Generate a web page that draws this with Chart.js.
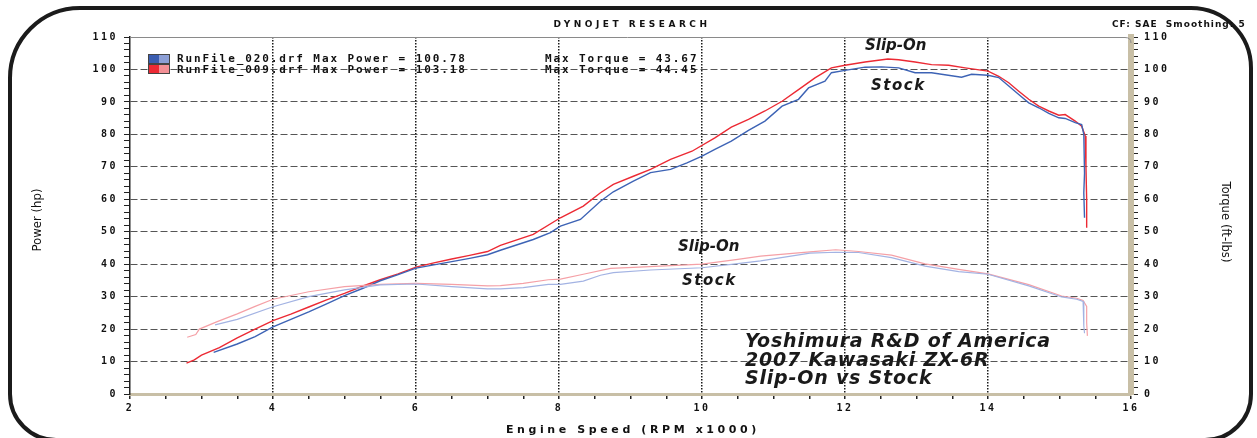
<!DOCTYPE html>
<html>
<head>
<meta charset="utf-8">
<script src="https://cdn.jsdelivr.net/npm/chart.js@4.4.0/dist/chart.umd.min.js"></script>
<style>
  html, body { margin: 0; padding: 0; background: #fff; }
  #wrap { position: relative; width: 1257px; height: 438px; overflow: hidden; }
  #wrap canvas { position: absolute; left: 0; top: 0; }
  .frame { position: absolute; left: 8px; top: 6px; width: 1245px; height: 436px; box-sizing: border-box;
           border: 4px solid #1b1b1b; border-radius: 72px 62px 48px 48px; pointer-events: none; }
  .txt { position: absolute; white-space: pre; color: #111; line-height: 12px; }
  .mono { font-family: 'DejaVu Sans Mono', monospace; font-weight: bold; font-size: 11px; letter-spacing: 1.9px; }
  .hdr { font-family: 'DejaVu Sans', sans-serif; font-weight: bold; font-size: 9px; letter-spacing: 3.5px; }
  .note { font-family: 'DejaVu Sans', sans-serif; font-weight: bold; font-style: italic; color: #1a1a1a; }
  .axt { font-family: 'Liberation Sans Narrow', 'DejaVu Sans Condensed', sans-serif; font-size: 13px; color: #111; }
  .sw { position: absolute; width: 22px; height: 10px; box-sizing: border-box; border: 1px solid #444; }
</style>
</head>
<body>
<div id="wrap">
  <canvas id="dyno" width="1257" height="438"></canvas>
  <div class="frame"></div>

  <div class="txt hdr" style="left:432px; top:18px; width:400px; text-align:center;">DYNOJET RESEARCH</div>
  <div class="txt hdr" style="left:1112px; top:18px; letter-spacing:1px;">CF: SAE  Smoothing: 5</div>

  <div class="sw" style="left:148px; top:54px; background:linear-gradient(90deg,#3a5db0 50%,#8c9fd6 50%);"></div>
  <div class="sw" style="left:148px; top:64px; background:linear-gradient(90deg,#ec2a34 50%,#f39096 50%);"></div>
  <div class="txt mono" style="left:177px; top:53px;">RunFile_020.drf Max Power = 100.78</div>
  <div class="txt mono" style="left:545px; top:53px;">Max Torque = 43.67</div>
  <div class="txt mono" style="left:177px; top:64px;">RunFile_009.drf Max Power = 103.18</div>
  <div class="txt mono" style="left:545px; top:64px;">Max Torque = 44.45</div>

  <div class="txt note" style="left:865px; top:37px; font-size:15px; line-height:16px;">Slip-On</div>
  <div class="txt note" style="left:871px; top:77px; font-size:15px; line-height:16px; letter-spacing:1.5px;">Stock</div>
  <div class="txt note" style="left:678px; top:238px; font-size:15px; line-height:16px;">Slip-On</div>
  <div class="txt note" style="left:682px; top:272px; font-size:15px; line-height:16px; letter-spacing:1.5px;">Stock</div>
  <div class="txt note" style="left:745px; top:331px; font-size:19px; line-height:18.5px; letter-spacing:0.8px;">Yoshimura R&amp;D of America
2007 Kawasaki ZX-6R
Slip-On vs Stock</div>

  <div class="txt hdr" style="left:433px; top:424px; width:400px; text-align:center; font-size:11px; letter-spacing:3.6px;">Engine Speed (RPM x1000)</div>
  <div class="txt axt" style="left:37px; top:220px; transform:translate(-50%,-50%) rotate(-90deg);">Power (hp)</div>
  <div class="txt axt" style="left:1226px; top:222px; transform:translate(-50%,-50%) rotate(90deg);">Torque (ft-lbs)</div>
</div>

<script>
// Slip-On run (RunFile_009)
const slipPowerRpm = [2.79, 2.9, 3.0, 3.25, 3.5, 3.75, 4.0, 4.25, 4.5, 4.75, 5.0, 5.25, 5.5, 5.75, 6.0, 6.25, 6.5, 6.75, 7.0, 7.18,
  7.64, 8.02, 8.34, 8.58, 8.76, 9.04, 9.28, 9.56, 9.86, 10.18, 10.41, 10.65, 10.88, 11.12, 11.35, 11.58, 11.81, 12.0, 12.28, 12.6,
  12.75, 12.98, 13.21, 13.45, 13.68, 14.0, 14.15, 14.29, 14.43, 14.57, 14.71, 14.85, 14.99, 15.08, 15.22, 15.31, 15.36, 15.37, 15.38, 15.38];
const slipPower = [9.5, 10.5, 12.0, 14.3, 17.3, 20.0, 22.6, 24.6, 26.8, 29.0, 31.0, 33.2, 35.2, 37.0, 39.1, 40.4, 41.6, 42.7, 43.9, 45.8,
  49.2, 54.3, 57.9, 62.0, 64.6, 67.1, 69.2, 72.3, 74.8, 78.9, 82.2, 84.6, 87.2, 90.2, 93.8, 97.4, 100.5, 101.3, 102.3, 103.2,
  103.0, 102.3, 101.5, 101.3, 100.5, 99.5, 97.9, 95.9, 93.3, 90.8, 88.7, 87.2, 85.9, 86.1, 84.1, 82.5, 79.5, 70.0, 60.0, 51.2];
const slipTorqueRpm = [2.8, 2.92, 2.97, 3.22, 3.5, 3.75, 4.0, 4.5, 5.0, 5.5, 6.0, 6.5, 7.0, 7.18, 7.5, 7.85, 8.02, 8.34, 8.72, 9.04,
  9.42, 10.0, 10.5, 10.82, 11.51, 11.87, 12.19, 12.65, 13.12, 13.59, 14.0, 14.57, 15.03, 15.24, 15.33, 15.38, 15.38, 15.39];
const slipTorque = [17.5, 18.3, 20.0, 22.3, 24.7, 27.0, 29.2, 31.5, 33.1, 33.8, 34.1, 33.8, 33.3, 33.4, 34.1, 35.2, 35.4, 36.9, 38.7, 39.0,
  39.4, 40.0, 41.5, 42.5, 43.8, 44.45, 43.9, 42.8, 40.1, 38.4, 37.0, 33.7, 30.2, 29.5, 28.8, 27.0, 22.0, 17.9];

// Stock run (RunFile_020)
const stockPowerRpm = [3.17, 3.5, 3.75, 4.0, 4.25, 4.5, 4.75, 5.0, 5.25, 5.5, 5.75, 6.0, 6.25, 6.5, 6.75, 7.0, 7.18, 7.64, 7.88, 8.02,
  8.3, 8.58, 8.76, 9.04, 9.28, 9.56, 9.79, 10.0, 10.18, 10.41, 10.65, 10.88, 11.12, 11.35, 11.49, 11.72, 11.81, 12.0, 12.28, 12.51,
  12.75, 12.98, 13.21, 13.63, 13.77, 14.0, 14.15, 14.29, 14.43, 14.57, 14.71, 14.85, 14.99, 15.08, 15.22, 15.31, 15.34, 15.35, 15.34, 15.35];
const stockPower = [12.8, 15.4, 17.7, 20.7, 23.0, 25.3, 27.8, 30.3, 32.5, 34.9, 36.8, 38.8, 39.8, 40.8, 41.8, 42.9, 44.3, 47.6, 49.7, 51.7,
  53.8, 59.4, 62.3, 65.6, 68.2, 69.2, 71.2, 73.3, 75.4, 77.9, 81.2, 84.1, 88.7, 90.8, 94.3, 96.4, 99.0, 99.7, 100.7, 100.8,
  100.5, 99.0, 99.0, 97.6, 98.5, 98.2, 97.5, 94.9, 92.3, 89.7, 88.2, 86.5, 85.1, 84.9, 83.6, 83.0, 80.0, 68.0, 62.0, 54.3];
const stockTorqueRpm = [3.19, 3.5, 4.0, 4.5, 5.0, 5.5, 6.0, 6.5, 7.0, 7.18, 7.5, 7.85, 8.02, 8.34, 8.58, 8.76, 9.28, 10.0, 10.5, 10.82,
  11.51, 11.87, 12.19, 12.65, 13.12, 13.59, 14.0, 14.57, 15.03, 15.24, 15.33, 15.34, 15.34, 15.35];
const stockTorque = [21.3, 23.0, 26.9, 30.0, 32.1, 33.6, 33.9, 33.1, 32.4, 32.4, 32.8, 33.8, 33.8, 34.8, 36.6, 37.4, 38.2, 38.9, 40.2, 41.0,
  43.4, 43.67, 43.6, 42.0, 39.4, 37.7, 36.9, 33.3, 29.9, 29.2, 28.5, 25.0, 21.0, 18.7];

const rpmMin = 2, rpmMax = 16;
const valMin = 0, valMax = 110;

const pts = (xs, ys) => xs.map((x, i) => ({ x, y: ys[i] }));

const tickFont = { family: "'DejaVu Sans Mono', monospace", size: 10, weight: 'bold' };

// wide "dyno" lettering on canvas ticks + top edge of plot box
const dynoFrame = {
  id: 'dynoFrame',
  beforeDraw(chart) {
    chart.ctx.letterSpacing = '2.5px';
  },
  beforeDatasetsDraw(chart) {
    const { ctx, chartArea: a } = chart;
    ctx.save();
    ctx.strokeStyle = '#8a8a8a';
    ctx.lineWidth = 1;
    ctx.beginPath();
    ctx.moveTo(a.left, a.top + 0.5);
    ctx.lineTo(a.right - 6, a.top + 0.5);
    ctx.quadraticCurveTo(a.right, a.top + 0.5, a.right, a.top + 6);
    ctx.stroke();
    ctx.restore();
  }
};

const line = (data, color, width, axis) => ({
  data, yAxisID: axis, borderColor: color, borderWidth: width,
  pointRadius: 0, tension: 0, fill: false
});

new Chart(document.getElementById('dyno'), {
  type: 'line',
  data: {
    datasets: [
      line(pts(stockTorqueRpm, stockTorque), '#a3b3e3', 1.2, 'y1'),
      line(pts(slipTorqueRpm, slipTorque), '#f5a0a6', 1.2, 'y1'),
      line(pts(stockPowerRpm, stockPower), '#3d63b5', 1.4, 'y'),
      line(pts(slipPowerRpm, slipPower), '#ec2a34', 1.4, 'y')
    ]
  },
  options: {
    responsive: false,
    animation: false,
    layout: { padding: { top: 37, left: 0, right: 0, bottom: 0 } },
    plugins: { legend: { display: false }, tooltip: { enabled: false }, title: { display: false } },
    scales: {
      x: {
        type: 'linear', min: rpmMin, max: rpmMax,
        afterFit: s => { s.height = 44; },
        ticks: { stepSize: 0.5, autoSkip: false, maxRotation: 0, padding: 3, color: '#111', font: tickFont,
                 callback: v => (v % 2 === 0 ? String(v) : '') },
        grid: {
          color: c => (c.tick && c.tick.value % 2 === 0 && c.tick.value > rpmMin && c.tick.value < rpmMax) ? '#1a1a1a' : 'rgba(0,0,0,0)',
          lineWidth: 1.5, tickColor: '#222', tickLength: 5
        },
        border: { color: '#c8bfa6', width: 3, dash: [1.5, 1.5] }
      },
      y: {
        type: 'linear', position: 'left', min: valMin, max: valMax,
        afterFit: s => { s.width = 130; },
        ticks: { stepSize: 2, autoSkip: false, padding: 6, color: '#111', font: tickFont,
                 callback: v => (v % 10 === 0 ? String(v) : '') },
        grid: {
          color: c => (c.tick && c.tick.value % 10 === 0 && c.tick.value > valMin && c.tick.value < valMax) ? '#555' : 'rgba(0,0,0,0)',
          lineWidth: 1, tickColor: '#222', tickLength: 6
        },
        border: { color: '#222', width: 1.5, dash: [7, 3] }
      },
      y1: {
        type: 'linear', position: 'right', min: valMin, max: valMax,
        afterFit: s => { s.width = 126; },
        ticks: { stepSize: 2, autoSkip: false, padding: 6, color: '#111', font: tickFont,
                 callback: v => (v % 10 === 0 ? String(v) : '') },
        grid: { drawOnChartArea: false, tickColor: '#222', tickLength: 7 },
        border: { color: '#c8bfa6', width: 6 }
      }
    }
  },
  plugins: [dynoFrame]
});
</script>
</body>
</html>
